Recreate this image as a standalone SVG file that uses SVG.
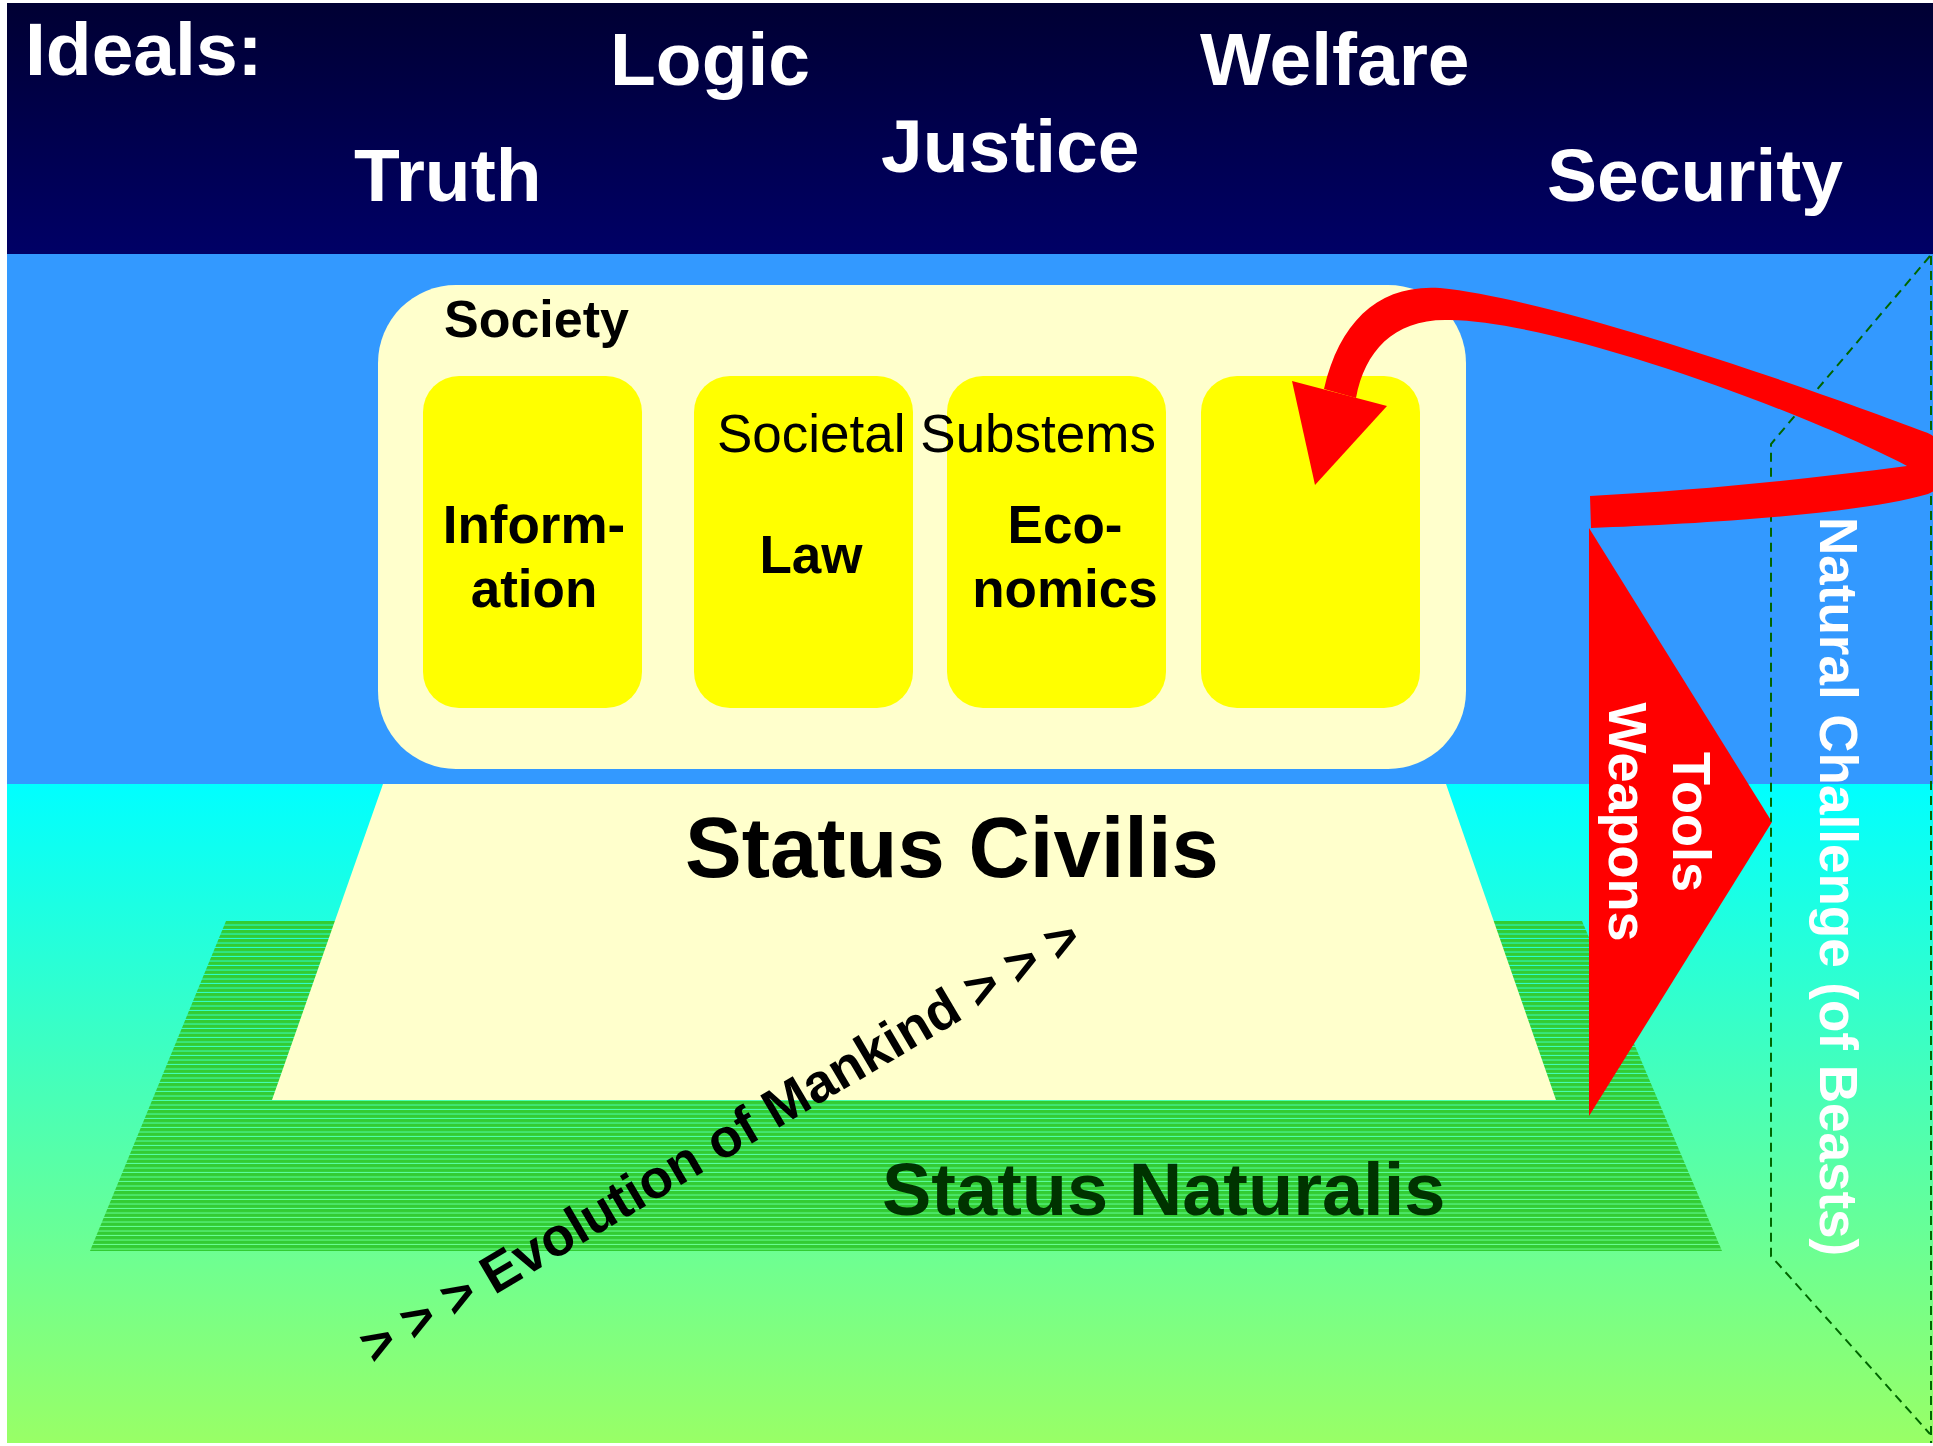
<svg xmlns="http://www.w3.org/2000/svg" width="1933" height="1446" viewBox="0 0 1933 1446">
<style>
text { font-family: "Liberation Sans", Arial, Helvetica, sans-serif; }
.ideal { font-size: 75px; font-weight: bold; fill: #FFFFFF; }
.sub { font-size: 53px; font-weight: bold; fill: #000000; text-anchor: middle; }
.vert { font-size: 54px; font-weight: bold; fill: #FFFFFF; }
.dash { fill: none; stroke: #006600; stroke-width: 2; stroke-dasharray: 9 6; }
</style>
<defs>
<linearGradient id="navy" x1="0" y1="0" x2="0" y2="1">
<stop offset="0" stop-color="#000033"/>
<stop offset="1" stop-color="#000066"/>
</linearGradient>
<linearGradient id="ground" x1="0" y1="0" x2="0" y2="1">
<stop offset="0" stop-color="#00FFFF"/>
<stop offset="1" stop-color="#99FF66"/>
</linearGradient>
<pattern id="stripes" patternUnits="userSpaceOnUse" x="0" y="921" width="40" height="4.5">
<rect x="0" y="0" width="40" height="3.5" fill="#33CC33"/>
</pattern>
</defs>
<rect x="0" y="0" width="1933" height="1446" fill="#FFFFFF"/>
<g id="ideals">
<rect x="7" y="3" width="1926" height="251" fill="url(#navy)"/>
<text class="ideal" x="25" y="75">Ideals:</text>
<text class="ideal" x="610" y="85">Logic</text>
<text class="ideal" x="1200" y="85">Welfare</text>
<text class="ideal" x="354" y="201">Truth</text>
<text class="ideal" x="881" y="172">Justice</text>
<text class="ideal" x="1547" y="201">Security</text>
</g>
<rect id="blue-band" x="7" y="254" width="1926" height="530" fill="#3399FF"/>
<rect id="ground-band" x="7" y="784" width="1926" height="659" fill="url(#ground)"/>
<g id="status-naturalis">
<polygon points="226,921 1582,921 1722,1251 90,1251" fill="url(#stripes)"/>
</g>
<g id="status-civilis">
<polygon points="383,784 1446,784 1556,1100 272,1100" fill="#FFFFCC"/>
<text x="685" y="877" font-size="85" font-weight="bold" fill="#000000">Status Civilis</text>
</g>
<text id="naturalis-label" x="882" y="1215" font-size="74" font-weight="bold" fill="#003300">Status Naturalis</text>
<g id="society">
<rect x="378" y="285" width="1088" height="484" rx="78" ry="78" fill="#FFFFCC"/>
<text x="444" y="337" font-size="52" font-weight="bold" fill="#000000">Society</text>
</g>
<g id="substem-information">
<rect x="423" y="376" width="219" height="332" rx="36" ry="36" fill="#FFFF00"/>
<text class="sub" x="534" y="543">Inform-</text>
<text class="sub" x="534" y="607">ation</text>
</g>
<g id="substem-law">
<rect x="694" y="376" width="219" height="332" rx="36" ry="36" fill="#FFFF00"/>
<text class="sub" x="811" y="573">Law</text>
</g>
<g id="substem-economics">
<rect x="947" y="376" width="219" height="332" rx="36" ry="36" fill="#FFFF00"/>
<text class="sub" x="1065" y="543">Eco-</text>
<text class="sub" x="1065" y="607">nomics</text>
</g>
<g id="substem-empty">
<rect x="1201" y="376" width="219" height="332" rx="36" ry="36" fill="#FFFF00"/>
</g>
<text id="substems-label" x="717" y="452" font-size="53" fill="#000000">Societal Substems</text>
<g id="tools-weapons">
<polygon points="1589,528 1772,822 1589,1116" fill="#FF0000"/>
<text class="vert" transform="translate(1673,822) rotate(90)" text-anchor="middle">Tools</text>
<text class="vert" transform="translate(1609,822) rotate(90)" text-anchor="middle">Weapons</text>
</g>
<g id="natural-challenge">
<polyline class="dash" points="1930,256 1771,444 1771,1256 1930,1434"/>
<line class="dash" x1="1931" y1="256" x2="1931" y2="1443"/>
<text class="vert" font-size="53" transform="translate(1820,517) rotate(90)" style="font-size:53px">Natural Challenge (of Beasts)</text>
</g>
<g id="connectors">
<path d="M1590,496 L1591,528 C1700,524 1860,514 1928,494 C1952,486 1952,440 1925,432 C1820,392 1560,300 1440,288 C1380,284 1340,320 1324,389 L1356,398 C1365,350 1395,318 1450,320 C1560,322 1800,410 1907,466 C1800,480 1700,490 1590,496 Z" fill="#FF0000"/>
<polygon points="1292,381 1387,406 1315,485" fill="#FF0000"/>
</g>
<text id="evolution" transform="translate(374,1366) rotate(-30.5)" font-size="54" font-weight="bold" fill="#000000">&gt; &gt; &gt; Evolution of Mankind &gt; &gt; &gt;</text>
</svg>
